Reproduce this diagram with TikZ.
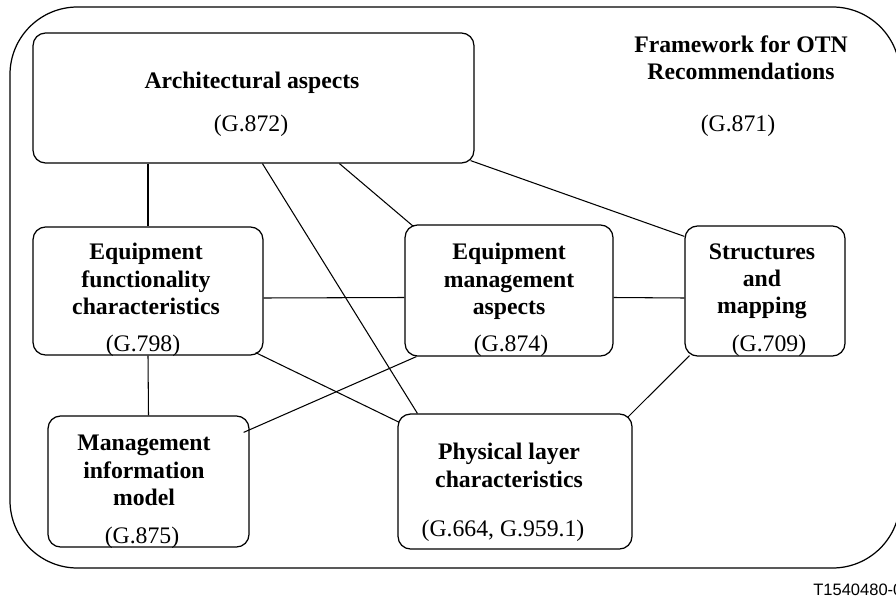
\documentclass[tikz,border=0pt]{standalone}
\usepackage{fontspec}
\setmainfont{Liberation Serif}
\newfontfamily\tagfont{Liberation Sans}
\usetikzlibrary{calc}
\newcommand\boxfont{\fontsize{13.5}{15.5}\selectfont}
\tikzset{
  box/.style={draw, rounded corners=0.25cm, line width=0.7pt, inner sep=0pt},
  title/.style={font=\boxfont\bfseries, align=center, inner sep=0pt, anchor=north},
  gref/.style={font=\boxfont, inner sep=0pt, anchor=north},
  link/.style={line width=0.6pt}
}
\begin{document}
\begin{tikzpicture}[x=0.02cm, y=-0.02cm]
\useasboundingbox (0,0) rectangle (896,598);
\draw[line width=0.7pt, rounded corners=1.35cm] (10,7) rectangle (900,568);
\node[title] (fwT) at (741,35) {Framework for OTN\\Recommendations};
\node[gref] (fwG) at (738,115) {(G.871)};

\node[box, minimum width=8.82cm, minimum height=2.6cm] (arch) at (253.5,98) {};
\node[title] (archT) at (252,72) {Architectural aspects};
\node[gref] (archG) at (251,115) {(G.872)};

\node[box, minimum width=4.6cm, minimum height=2.56cm] (eqfunc) at (148,291) {};
\node[title] (eqfuncT) at (146,243) {Equipment\\functionality\\characteristics};
\node[gref] (eqfuncG) at (143,335) {(G.798)};

\node[box, minimum width=4.16cm, minimum height=2.62cm] (eqmgmt) at (509,290.5) {};
\node[title] (eqmgmtT) at (509,243) {Equipment\\management\\aspects};
\node[gref] (eqmgmtG) at (511,335) {(G.874)};

\node[box, minimum width=3.2cm, minimum height=2.6cm] (struct) at (765,291) {};
\node[title] (structT) at (762,243) {Structures\\and\\mapping};
\node[gref] (structG) at (769,335) {(G.709)};

\node[box, minimum width=4.02cm, minimum height=2.62cm] (mgmtinfo) at (148.5,481.5) {};
\node[title] (mgmtinfoT) at (144,435) {Management\\information\\model};
\node[gref] (mgmtinfoG) at (142,527) {(G.875)};

\node[box, minimum width=4.68cm, minimum height=2.7cm] (phys) at (515,481.5) {};
\node[title] (physT) at (509,443) {Physical layer\\characteristics};
\node[gref] (physG) at (503,520) {(G.664, G.959.1)};

\draw[link] (eqfunc.north |- arch.south) -- (eqfunc.north);
\draw[link] ($(arch.south west)+(230,0)$) -- ($(phys.north west)+(20,0)$);
\draw[link] ($(arch.south west)+(307,0)$) -- ($(eqmgmt.north west)+(9,2)$);
\draw[link] ($(arch.south east)+(-4,-3)$) -- ($(struct.north west)+(0,11)$);
\draw[link] ($(eqfunc.east)+(0,7)$) -- ($(eqmgmt.west)+(0,7)$);
\draw[link] ($(eqmgmt.east)+(0,7)$) -- ($(struct.west)+(0,7)$);
\draw[link] (eqfunc.south) -- (mgmtinfo.north);
\draw[link] ($(eqfunc.south east)+(-8,-3)$) -- ($(phys.north west)+(2,9)$);
\draw[link] ($(eqmgmt.south west)+(12,0)$) -- ($(mgmtinfo.north east)+(-6,17)$);
\draw[link] ($(struct.south west)+(5,-1)$) -- ($(phys.north east)+(-5,4)$);

\node[font=\tagfont\fontsize{9.4}{11}\selectfont, anchor=base west, inner sep=0pt] (tag) at (813,595) {T1540480-0};
\end{tikzpicture}
\end{document}
